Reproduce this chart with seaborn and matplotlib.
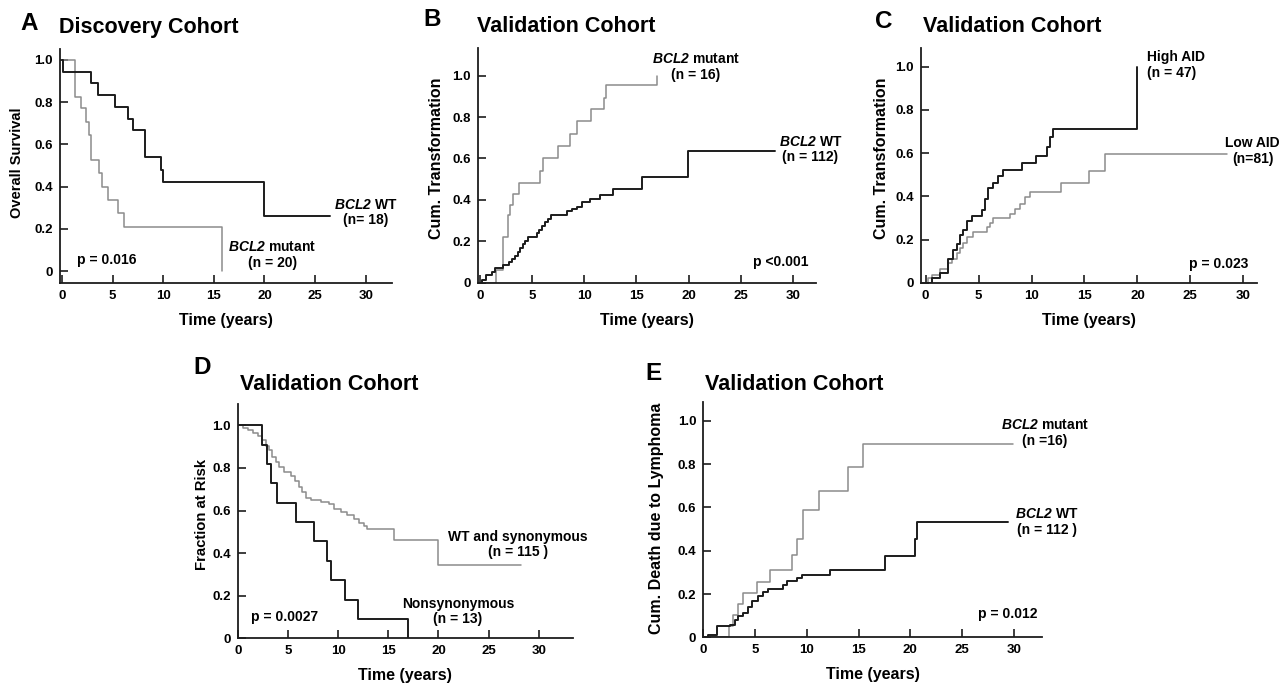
import matplotlib
matplotlib.use("Agg")
import matplotlib.pyplot as plt
import seaborn as sns

# Panel A - discovery cohort, overall survival
a_wt_t = [0, 0.07, 2.83, 3.6, 5.2, 6.55, 7.04, 8.2, 9.74, 10.0, 20.0, 26.5]
a_wt_s = [1.0, 0.944, 0.889, 0.833, 0.778, 0.722, 0.667, 0.539, 0.479, 0.42, 0.263, 0.263]
a_mut_t = [0, 1.28, 1.88, 2.37, 2.7, 2.83, 3.68, 3.9, 4.57, 5.56, 6.12, 15.76]
a_mut_s = [1.0, 0.825, 0.771, 0.708, 0.645, 0.527, 0.467, 0.40, 0.337, 0.274, 0.207, 0.0]

# Panel B - validation cohort, cumulative transformation by BCL2 status
b_mut_t = [0, 1.5, 2.2, 2.65, 2.9, 3.2, 3.7, 5.76, 6.0, 7.5, 8.6, 9.3, 10.6, 11.9, 12.1, 16.97]
b_mut_y = [0, 0.0625, 0.22, 0.325, 0.375, 0.43, 0.48, 0.54, 0.60, 0.66, 0.72, 0.78, 0.84, 0.89, 0.955, 1.0]
b_wt_t = [0, 0.2, 0.58, 1.12, 1.44, 2.24, 2.82, 3.1, 3.35, 3.6, 3.85, 4.1, 4.35, 4.6, 5.5, 5.7,
          5.95, 6.2, 6.5, 6.8, 8.33, 8.8, 9.29, 9.77, 10.57, 11.53, 12.8, 15.53, 19.95, 28.3]
b_wt_y = [0, 0.013, 0.037, 0.053, 0.07, 0.085, 0.10, 0.115, 0.13, 0.15, 0.17, 0.185, 0.2, 0.222, 0.24, 0.255,
          0.275, 0.295, 0.31, 0.327, 0.346, 0.356, 0.367, 0.388, 0.404, 0.424, 0.452, 0.512, 0.636, 0.636]

# Panel C - validation cohort, cumulative transformation by AID level
c_high_t = [0, 0.57, 1.35, 2.14, 2.61, 2.93, 3.24, 3.56, 3.87, 4.34, 5.29, 5.6, 5.92, 6.39, 6.86, 7.33,
            9.07, 10.42, 11.43, 11.74, 11.99, 19.92]
c_high_y = [0, 0.02, 0.043, 0.11, 0.15, 0.18, 0.22, 0.244, 0.287, 0.31, 0.336, 0.386, 0.437, 0.463, 0.494, 0.52,
            0.552, 0.586, 0.63, 0.676, 0.711, 1.0]
c_low_t = [0, 0.25, 0.57, 1.35, 2.14, 2.46, 2.93, 3.24, 3.56, 3.87, 4.5, 5.76, 6.07, 6.39, 7.96, 8.44,
           8.91, 9.38, 9.85, 12.75, 15.45, 16.93, 28.42]
c_low_y = [0, 0.02, 0.035, 0.062, 0.09, 0.11, 0.136, 0.16, 0.185, 0.21, 0.233, 0.26, 0.278, 0.298, 0.318, 0.34,
           0.364, 0.395, 0.418, 0.463, 0.519, 0.594, 0.594]

# Panel D - validation cohort, fraction at risk
d_non_t = [0, 2.38, 2.89, 3.28, 3.88, 5.83, 7.6, 8.86, 9.32, 10.68, 11.98, 16.96]
d_non_y = [1.0, 0.909, 0.818, 0.727, 0.636, 0.545, 0.455, 0.364, 0.273, 0.182, 0.091, 0.0]
d_wt_t = [0, 0.46, 0.95, 1.45, 1.95, 2.44, 2.78, 3.11, 3.44, 3.78, 4.11, 4.6, 5.27, 5.67, 6.1, 6.43,
          6.76, 7.26, 8.26, 9.09, 9.58, 10.25, 10.91, 11.58, 12.08, 12.57, 12.9, 15.56, 19.98, 28.24]
d_wt_y = [1.0, 0.987, 0.976, 0.965, 0.95, 0.929, 0.905, 0.882, 0.85, 0.826, 0.803, 0.779, 0.763, 0.74, 0.708, 0.685,
          0.66, 0.65, 0.642, 0.63, 0.606, 0.593, 0.577, 0.562, 0.543, 0.527, 0.511, 0.46, 0.345, 0.345]

# Panel E - validation cohort, cumulative death due to lymphoma
e_mut_t = [0, 2.52, 2.91, 3.39, 3.87, 5.16, 6.45, 8.54, 9.02, 9.6, 11.21, 14.01, 15.39, 29.94]
e_mut_y = [0, 0.05, 0.103, 0.154, 0.203, 0.257, 0.311, 0.38, 0.454, 0.59, 0.674, 0.785, 0.892, 0.892]
e_wt_t = [0, 0.5, 1.36, 2.59, 3.07, 3.39, 3.87, 4.36, 4.68, 5.32, 5.8, 6.29, 7.73, 8.05, 9.02, 9.5,
          12.24, 17.55, 20.45, 20.61, 29.45]
e_wt_y = [0, 0.012, 0.05, 0.058, 0.08, 0.1, 0.112, 0.14, 0.166, 0.189, 0.21, 0.225, 0.243, 0.258, 0.274, 0.289,
          0.312, 0.378, 0.454, 0.531, 0.531]

x_ticks = [0, 5, 10, 15, 20, 25, 30]
y_ticks = [0, 0.2, 0.4, 0.6, 0.8, 1.0]
y_tick_labels = ["0", "0.2", "0.4", "0.6", "0.8", "1.0"]

BLACK = "#1c1c1c"
GRAY = "#8c8c8c"

sns.set_theme(style="ticks")
plt.rcParams["font.family"] = ["Liberation Sans", "DejaVu Sans"]
plt.rcParams["font.weight"] = "bold"
plt.rcParams["text.color"] = "black"
plt.rcParams["axes.labelcolor"] = "black"
plt.rcParams["xtick.labelcolor"] = "black"
plt.rcParams["ytick.labelcolor"] = "black"
plt.rcParams["mathtext.fontset"] = "custom"
plt.rcParams["mathtext.rm"] = "Liberation Sans:bold"
plt.rcParams["mathtext.bf"] = "Liberation Sans:bold"
plt.rcParams["mathtext.bfit"] = "Liberation Sans:italic:bold"

W, H = 1287, 690
fig = plt.figure(figsize=(W / 100, H / 100), dpi=100)


def px(x, y):
    return x / W, 1 - y / H


def make_axes(left, right, top, bottom, xlim, ylim):
    ax = fig.add_axes([left / W, 1 - bottom / H, (right - left) / W, (bottom - top) / H])
    ax.set_xlim(*xlim)
    ax.set_ylim(*ylim)
    ax.set_xticks(x_ticks)
    ax.set_yticks(y_ticks)
    ax.set_yticklabels(y_tick_labels)
    sns.despine(ax=ax)
    for s in ["left", "bottom"]:
        ax.spines[s].set_color(BLACK)
        ax.spines[s].set_linewidth(1.3)
    ax.tick_params(direction="in", length=5.5, width=1.2, color=BLACK, labelsize=9.5, pad=5,
                   labelcolor="black")
    for lab in ax.get_xticklabels() + ax.get_yticklabels():
        lab.set_fontweight("bold")
    ax.set_xlabel("Time (years)", fontsize=11.5, fontweight="bold", labelpad=8)
    return ax


def km(ax, t, y, color, lw):
    sns.lineplot(x=t, y=y, ax=ax, color=color, linewidth=lw, drawstyle="steps-post",
                 estimator=None, sort=False)


def header(letter, lx, ly, title, tx, ty):
    fig.text(*px(lx, ly), letter, fontsize=17.5, fontweight="bold", va="center", ha="left")
    fig.text(*px(tx, ty), title, fontsize=15.5, fontweight="bold", va="center", ha="left")


def ylab(text, x, y, size):
    fig.text(*px(x, y), text, rotation=90, fontsize=size, fontweight="bold", ha="center", va="center")


def note(ax, x, y, text, ha="center"):
    ax.text(x, y, text, fontsize=10, fontweight="bold", ha=ha, va="center", multialignment=ha,
            linespacing=1.15)


# ---------- A ----------
axA = make_axes(60, 392, 49, 283, (-0.2, 32.6), (-0.056, 1.052))
km(axA, a_mut_t, a_mut_s, GRAY, 1.1)
km(axA, a_wt_t, a_wt_s, BLACK, 1.4)
header("A", 20, 24, "Discovery Cohort", 59, 28)
ylab("Overall Survival", 17, 163, 10.5)
note(axA, 30.0, 0.278, "$\\mathbfit{BCL2}$ WT\n(n= 18)")
note(axA, 20.8, 0.077, "$\\mathbfit{BCL2}$ mutant\n(n = 20)")
note(axA, 1.48, 0.053, "p = 0.016", ha="left")

# ---------- B ----------
axB = make_axes(477.7, 815.7, 47.7, 282.7, (-0.22, 32.2), (0, 1.135))
km(axB, b_mut_t, b_mut_y, GRAY, 1.1)
km(axB, b_wt_t, b_wt_y, BLACK, 1.4)
header("B", 423, 20, "Validation Cohort", 476.7, 26.7)
ylab("Cum. Transformation", 437, 158, 11.5)
note(axB, 20.7, 1.043, "$\\mathbfit{BCL2}$ mutant\n(n = 16)")
note(axB, 31.7, 0.643, "$\\mathbfit{BCL2}$ WT\n(n = 112)")
note(axB, 31.5, 0.101, "p <0.001", ha="right")

# ---------- C ----------
axC = make_axes(921, 1257, 47.7, 282.7, (-0.44, 31.3), (0, 1.088))
km(axC, c_low_t, c_low_y, GRAY, 1.1)
km(axC, c_high_t, c_high_y, BLACK, 1.4)
header("C", 875, 21.7, "Validation Cohort", 922.7, 26.7)
ylab("Cum. Transformation", 882, 158, 11.5)
note(axC, 20.9, 1.008, "High AID\n(n = 47)", ha="left")
note(axC, 30.9, 0.61, "Low AID\n(n=81)")
note(axC, 30.5, 0.087, "p = 0.023", ha="right")

# ---------- D ----------
axD = make_axes(238, 572.7, 404, 638.3, (0, 33.4), (0, 1.10))
km(axD, d_wt_t, d_wt_y, GRAY, 1.1)
km(axD, d_non_t, d_non_y, BLACK, 1.4)
header("D", 193, 368, "Validation Cohort", 240, 385)
ylab("Fraction at Risk", 202, 514, 10.7)
note(axD, 27.9, 0.44, "WT and synonymous\n(n = 115 )")
note(axD, 21.95, 0.125, "Nonsynonymous\n(n = 13)")
note(axD, 1.28, 0.102, "p = 0.0027", ha="left")

# ---------- E ----------
axE = make_axes(703.3, 1041.7, 401.7, 637.3, (0, 32.7), (0, 1.089))
km(axE, e_mut_t, e_mut_y, GRAY, 1.1)
km(axE, e_wt_t, e_wt_y, BLACK, 1.4)
header("E", 645, 373, "Validation Cohort", 705, 385)
ylab("Cum. Death due to Lymphoma", 657, 518, 11.5)
note(axE, 33.0, 0.944, "$\\mathbfit{BCL2}$ mutant\n(n =16)")
note(axE, 33.2, 0.533, "$\\mathbfit{BCL2}$ WT\n(n = 112 )")
note(axE, 32.25, 0.108, "p = 0.012", ha="right")

fig.savefig("out.png", dpi=100, facecolor="white")
